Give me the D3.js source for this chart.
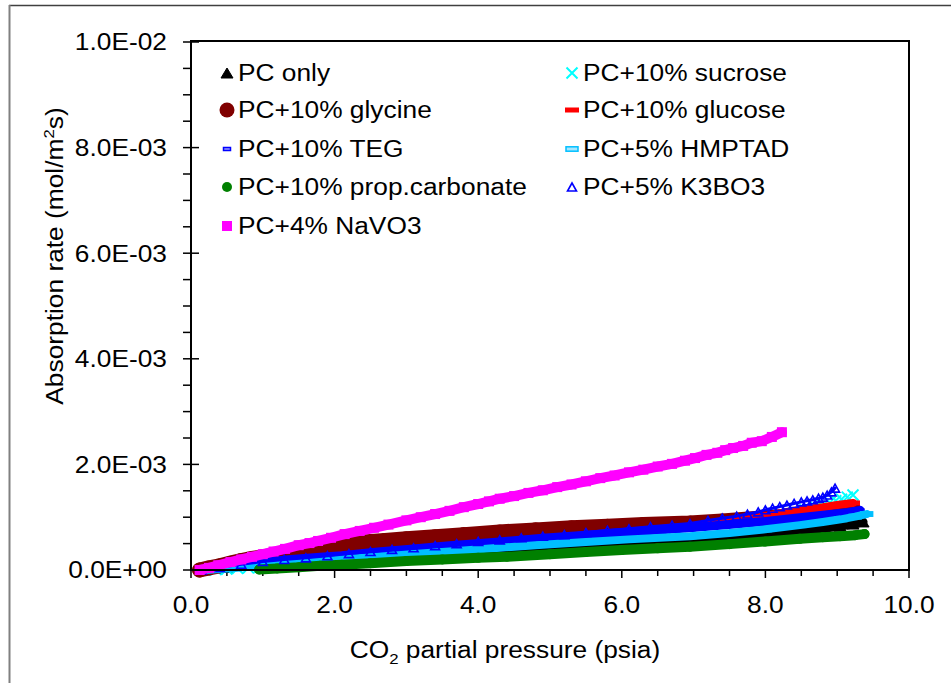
<!DOCTYPE html>
<meta charset="utf-8">
<head>
    <title>Absorption rate vs CO2 partial pressure</title>
    <script src="https://cdn.jsdelivr.net/npm/d3@7"></script>
    <style>
        body { margin: 0; background: #fff; }
        text { font-family: "Liberation Sans", Arial, sans-serif; fill: #000; }
    </style>
</head>
<body>
<div id="chart"></div>
<script>

// series names in plot order (later ones are drawn on top)
var seriesNames = ["PC only", "PC+10% sucrose", "PC+10% glycine", "PC+10% glucose", "PC+10% TEG",
                   "PC+5% HMPTAD", "PC+10% prop.carbonate", "PC+5% K3BO3", "PC+4% NaVO3"]

// CO2 partial pressure (psia) and absorption rate (x 1E-03 mol/m2s)
var pPC  = [0.15, 0.5, 1.0, 1.5, 2.1, 2.7, 3.3, 3.8, 4.3, 4.9, 5.5, 6.1, 6.5, 6.95, 7.5, 8.0, 8.48, 8.8, 9.04, 9.22, 9.36]
var rPC  = [0.00, 0.05, 0.10, 0.14, 0.18, 0.22, 0.27, 0.31, 0.35, 0.40, 0.45, 0.50, 0.54, 0.58, 0.63, 0.69, 0.75, 0.79, 0.83, 0.87, 0.91]

var pSuc = [0.2, 0.35, 0.5, 0.65, 0.8, 0.95, 1.1, 1.3, 1.5, 1.75, 2.0, 2.3, 2.6, 2.9, 3.2, 3.5, 3.8, 4.05, 4.3, 4.65,
            5.0, 5.35, 5.7, 6.0, 6.3, 6.6, 6.95, 7.25, 7.5, 7.75, 8.0, 8.2, 8.4, 8.55, 8.7, 8.8, 8.9, 8.98, 9.06, 9.14, 9.22]
var rSuc = [0.00, 0.01, 0.02, 0.03, 0.04, 0.05, 0.07, 0.10, 0.13, 0.17, 0.21, 0.25, 0.30, 0.34, 0.38, 0.42, 0.46, 0.49, 0.52, 0.56,
            0.60, 0.64, 0.68, 0.71, 0.75, 0.79, 0.83, 0.88, 0.92, 0.97, 1.02, 1.06, 1.10, 1.14, 1.19, 1.23, 1.28, 1.31, 1.34, 1.38, 1.42]

var pGly = [0.12, 0.25, 0.4, 0.55, 0.7, 0.85, 1.0, 1.2, 1.4, 1.6, 1.8, 2.0, 2.2, 2.4, 2.7, 3.0, 3.4, 3.8, 4.3, 4.8,
            5.3, 5.8, 6.3, 6.95, 7.4, 7.9, 8.4, 8.8, 9.05, 9.22]
var rGly = [0.00, 0.04, 0.08, 0.13, 0.18, 0.22, 0.25, 0.28, 0.32, 0.36, 0.41, 0.45, 0.49, 0.53, 0.56, 0.59, 0.63, 0.67, 0.72, 0.76,
            0.80, 0.83, 0.86, 0.89, 0.93, 0.98, 1.03, 1.08, 1.12, 1.16]

var pGlu = [0.2, 0.6, 1.0, 1.5, 2.0, 2.6, 3.2, 3.8, 4.3, 4.9, 5.5, 6.1, 6.6, 6.95, 7.2, 7.41, 7.65, 7.88, 8.1, 8.34, 8.55, 8.8, 9.0, 9.22]
var rGlu = [0.00, 0.06, 0.12, 0.19, 0.26, 0.33, 0.40, 0.47, 0.52, 0.59, 0.66, 0.72, 0.78, 0.82, 0.86, 0.90, 0.94, 0.99, 1.05, 1.11, 1.15, 1.19, 1.23, 1.27]

var pTEG = [0.15, 0.4, 0.7, 1.03, 1.4, 1.8, 2.1, 2.6, 3.1, 3.6, 4.3, 4.9, 5.5, 6.1, 6.95, 7.5, 8.0, 8.48, 8.9, 9.15, 9.32]
var rTEG = [0.00, 0.05, 0.10, 0.15, 0.20, 0.24, 0.27, 0.34, 0.40, 0.46, 0.53, 0.60, 0.66, 0.72, 0.80, 0.86, 0.92, 0.99, 1.05, 1.09, 1.13]

var pHMP = [0.2, 0.6, 1.0, 1.5, 2.1, 2.7, 3.3, 3.8, 4.3, 4.9, 5.5, 6.1, 6.95, 7.5, 8.0, 8.48, 8.8, 9.05, 9.25, 9.41]
var rHMP = [0.00, 0.04, 0.08, 0.13, 0.20, 0.26, 0.32, 0.37, 0.42, 0.48, 0.53, 0.58, 0.64, 0.70, 0.77, 0.85, 0.91, 0.96, 1.01, 1.06]

var pPro = [0.95, 1.2, 1.5, 1.8, 2.1, 2.5, 3.0, 3.5, 4.0, 4.4, 5.0, 5.5, 6.0, 6.5, 6.95, 7.5, 8.0, 8.48, 8.8, 9.04, 9.25, 9.38]
var rPro = [0.01, 0.03, 0.05, 0.08, 0.10, 0.13, 0.17, 0.20, 0.23, 0.25, 0.30, 0.34, 0.38, 0.41, 0.44, 0.49, 0.54, 0.59, 0.62, 0.64, 0.66, 0.68]

var pK3  = [0.15, 0.4, 0.7, 1.0, 1.3, 1.6, 1.9, 2.2, 2.5, 2.8, 3.1, 3.4, 3.7, 4.0, 4.3, 4.6, 4.9, 5.2, 5.5, 5.8,
            6.1, 6.4, 6.7, 6.95, 7.2, 7.4, 7.6, 7.75, 7.9, 8.0, 8.1, 8.2, 8.3, 8.4, 8.5, 8.58, 8.66, 8.74, 8.8, 8.86, 8.92, 8.97]
var rK3  = [0.00, 0.05, 0.11, 0.16, 0.20, 0.23, 0.27, 0.31, 0.35, 0.39, 0.42, 0.46, 0.50, 0.54, 0.57, 0.61, 0.64, 0.67, 0.71, 0.75,
            0.78, 0.82, 0.85, 0.88, 0.94, 0.98, 1.02, 1.06, 1.10, 1.14, 1.17, 1.20, 1.23, 1.26, 1.29, 1.31, 1.33, 1.36, 1.38, 1.42, 1.48, 1.55]

var pNa  = [0.12, 0.25, 0.38, 0.55, 0.70, 0.85, 1.0, 1.15, 1.31, 1.5, 1.65, 1.77, 1.95, 2.14, 2.35, 2.55, 2.75, 3.0, 3.2, 3.4,
            3.6, 3.8, 4.0, 4.15, 4.3, 4.5, 4.7, 4.9, 5.1, 5.3, 5.5, 5.7, 5.9, 6.1, 6.3, 6.5, 6.7, 6.88, 7.02, 7.18,
            7.33, 7.44, 7.55, 7.69, 7.81, 7.95, 8.09, 8.23]
var rNa  = [0.00, 0.04, 0.09, 0.15, 0.20, 0.25, 0.30, 0.35, 0.40, 0.47, 0.51, 0.55, 0.61, 0.68, 0.74, 0.80, 0.86, 0.94, 1.00, 1.06,
            1.12, 1.19, 1.25, 1.30, 1.35, 1.40, 1.46, 1.51, 1.57, 1.62, 1.68, 1.74, 1.79, 1.85, 1.90, 1.96, 2.01, 2.07, 2.12, 2.18,
            2.22, 2.27, 2.31, 2.35, 2.41, 2.44, 2.52, 2.61]

// axis ticks
var xTicks = [0, 2, 4, 6, 8, 10]
var yTicks = [0, 2, 4, 6, 8, 10]   // x 1E-03

// table for drawing: data + marker style
var series = [
  {name: seriesNames[0], p: pPC,  r: rPC,  color: "#000000", shape: "triFill", band: 9},
  {name: seriesNames[1], p: pSuc, r: rSuc, color: "#00FFFF", shape: "x",       band: 0},
  {name: seriesNames[2], p: pGly, r: rGly, color: "#800000", shape: "bigDot",  band: 15},
  {name: seriesNames[3], p: pGlu, r: rGlu, color: "#FF0000", shape: "dash",    band: 8},
  {name: seriesNames[4], p: pTEG, r: rTEG, color: "#0000FF", shape: "smallBox",band: 9},
  {name: seriesNames[5], p: pHMP, r: rHMP, color: "#00BFFF", shape: "box",     band: 8},
  {name: seriesNames[6], p: pPro, r: rPro, color: "#008000", shape: "dot",     band: 10},
  {name: seriesNames[7], p: pK3,  r: rK3,  color: "#0000FF", shape: "triOpen", band: 3},
  {name: seriesNames[8], p: pNa,  r: rNa,  color: "#FF00FF", shape: "square",  band: 10}
]

var width = 951, height = 683
var sx = 1.12        // text in the original is a bit wide
var fontSize = "23.5px"

var svg = d3.select("#chart").append("svg")
  .attr("width", width)
  .attr("height", height)

// outer chart frame
svg.append("line").attr("x1", 9).attr("x2", width).attr("y1", 5.5).attr("y2", 5.5)
  .attr("stroke", "#404040").attr("stroke-width", 1.5)
svg.append("line").attr("x1", 9.5).attr("x2", 9.5).attr("y1", 5).attr("y2", height)
  .attr("stroke", "#808080").attr("stroke-width", 2)

var x = d3.scaleLinear().domain([0, 10]).range([191, 909])
var y = d3.scaleLinear().domain([0, 10]).range([570, 42])

function yLabel(v) {
  var val = v * 1e-3
  if (val === 0) return "0.0E+00"
  var e = Math.floor(Math.log10(val) + 1e-9)
  var m = val / Math.pow(10, e)
  return m.toFixed(1) + "E" + (e < 0 ? "-" : "+") + String(Math.abs(e)).padStart(2, "0")
}

// minor + major ticks
var axes = svg.append("g").attr("stroke", "#000")
x.ticks(20).forEach(function(t) {
  var major = xTicks.indexOf(t) >= 0
  axes.append("line").attr("x1", x(t)).attr("x2", x(t))
    .attr("y1", 570).attr("y2", 570 + (major ? 8 : 6)).attr("stroke-width", 1.5)
})
y.ticks(20).forEach(function(t) {
  var major = yTicks.indexOf(t) >= 0
  axes.append("line").attr("y1", y(t)).attr("y2", y(t))
    .attr("x1", 191 - 8).attr("x2", 191 + (major ? 8 : 0)).attr("stroke-width", 1.5)
})

// tick labels
svg.append("g").selectAll("text").data(xTicks).enter().append("text")
  .attr("transform", function(d) { return "translate(" + x(d) + ",613) scale(" + sx + ",1)" })
  .attr("text-anchor", "middle").style("font-size", fontSize)
  .text(function(d) { return d3.format(".1f")(d) })
svg.append("g").selectAll("text").data(yTicks).enter().append("text")
  .attr("transform", function(d) { return "translate(167," + y(d) + ") scale(" + sx + ",1)" })
  .attr("text-anchor", "end").attr("dy", "0.36em").style("font-size", fontSize)
  .text(yLabel)

// axis titles
var xt = svg.append("text").attr("transform", "translate(505,658) scale(" + sx + ",1)")
  .attr("text-anchor", "middle").style("font-size", fontSize)
xt.append("tspan").text("CO")
xt.append("tspan").text("2").style("font-size", "15px").attr("dy", 6)
xt.append("tspan").text(" partial pressure (psia)").attr("dy", -6)

var yt = svg.append("text").attr("transform", "translate(63,256) rotate(-90) scale(" + sx + ",1)")
  .attr("text-anchor", "middle").style("font-size", fontSize)
yt.append("tspan").text("Absorption rate (mol/m")
yt.append("tspan").text("2").style("font-size", "15px").attr("dy", -9)
yt.append("tspan").text("s)").attr("dy", 9)

// marker shapes (inPlot: markers sitting on a band get a solid fill)
function marker(sel, shape, color, inPlot) {
  var p = d3.path()
  if (shape == "triFill" || shape == "triOpen") {
    var w = shape == "triFill" ? 12 : 9, h = shape == "triFill" ? 10 : 8
    p.moveTo(0, -h / 2); p.lineTo(w / 2, h / 2); p.lineTo(-w / 2, h / 2); p.closePath()
    sel.append("path").attr("d", p.toString())
      .attr("fill", shape == "triFill" ? color : "none")
      .attr("stroke", color).attr("stroke-width", shape == "triFill" ? 1 : 1.6)
  } else if (shape == "x") {
    p.moveTo(-5.5, -5.5); p.lineTo(5.5, 5.5); p.moveTo(5.5, -5.5); p.lineTo(-5.5, 5.5)
    sel.append("path").attr("d", p.toString()).attr("stroke", color).attr("stroke-width", 2).attr("fill", "none")
  } else if (shape == "bigDot" || shape == "dot") {
    sel.append("circle").attr("r", shape == "bigDot" ? 7.5 : 5).attr("fill", color)
  } else if (shape == "square") {
    sel.append("rect").attr("x", -5).attr("y", -5).attr("width", 10).attr("height", 10).attr("fill", color)
  } else if (shape == "dash") {
    sel.append("rect").attr("x", -7).attr("y", -2.5).attr("width", 14).attr("height", 5).attr("fill", color)
  } else if (shape == "smallBox") {
    sel.append("rect").attr("x", -3.5).attr("y", -1.5).attr("width", 7).attr("height", 3)
      .attr("fill", inPlot ? color : "#9999ff").attr("stroke", color).attr("stroke-width", 1.5)
  } else if (shape == "box") {
    sel.append("rect").attr("x", -6).attr("y", -2.2).attr("width", 12).attr("height", 4.4)
      .attr("fill", inPlot ? color : "#a6e6ff").attr("stroke", color).attr("stroke-width", 1.5)
  }
}

// series: dense markers in the original read as bands
var plot = svg.append("g")
var line = d3.line().x(function(d) { return x(d.p) }).y(function(d) { return y(d.r) })
series.forEach(function(s) {
  var pts = s.p.map(function(p, i) { return {p: p, r: s.r[i]} })
  var g = plot.append("g")
  if (s.band > 0) {
    g.append("path").datum(pts).attr("d", line)
      .attr("fill", "none").attr("stroke", s.color).attr("stroke-width", s.band)
      .attr("stroke-linecap", "round").attr("stroke-linejoin", "round")
  }
  g.selectAll("g.m").data(pts).enter().append("g").attr("class", "m")
    .attr("transform", function(d) { return "translate(" + x(d.p) + "," + y(d.r) + ")" })
    .each(function() { marker(d3.select(this), s.shape, s.color, true) })
})

// plot box
svg.append("rect").attr("x", 191).attr("y", 41).attr("width", 909 - 191).attr("height", 570 - 41)
  .attr("fill", "none").attr("stroke", "#000").attr("stroke-width", 2)

// legend, two columns, row-wise
var legendRowsY = [73, 110, 149, 187, 226]
var legend = svg.append("g")
series.forEach(function(s, i) {
  var col = i % 2, row = Math.floor(i / 2)
  var mx = col == 0 ? 227 : 572
  var item = legend.append("g")
  var m = item.append("g").attr("transform", "translate(" + mx + "," + legendRowsY[row] + ")")
  marker(m, s.shape, s.color, false)
  item.append("text")
    .attr("transform", "translate(" + (mx + 11) + "," + (legendRowsY[row] + 8) + ") scale(" + sx + ",1)")
    .style("font-size", fontSize)
    .text(s.name)
})

</script>
</body>
</html>
